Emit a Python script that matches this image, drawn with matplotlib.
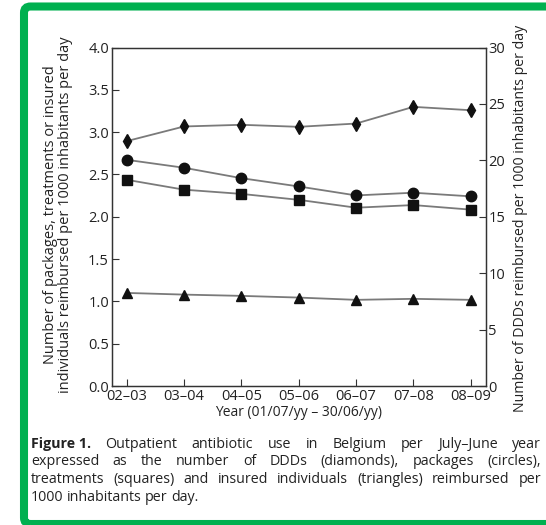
import matplotlib
matplotlib.use("Agg")
import matplotlib.pyplot as plt
from matplotlib.patches import FancyBboxPatch

plt.rcParams["font.family"] = ["Open Sans", "DejaVu Sans"]

# July-June years and the four indicators
years = ["02\u201303", "03\u201304", "04\u201305", "05\u201306", "06\u201307", "07\u201308", "08\u201309"]
ddds = [21.7, 23.0, 23.15, 22.97, 23.26, 24.74, 24.44]        # right axis
packages = [2.673, 2.579, 2.456, 2.358, 2.252, 2.284, 2.241]
treatments = [2.437, 2.32, 2.27, 2.20, 2.107, 2.138, 2.084]
individuals = [1.10, 1.08, 1.065, 1.045, 1.018, 1.03, 1.018]

W, H = 546, 525
fig = plt.figure(figsize=(W / 100, H / 100), dpi=100, facecolor="white")

# green frame around figure and caption (right side runs off the page)
frame = FancyBboxPatch((24 / W, 1 - 524 / H), (580 - 24) / W, (524 - 6.5) / H,
                       boxstyle="round,pad=0,rounding_size=0.012",
                       transform=fig.transFigure, facecolor="none",
                       edgecolor="#00B050", linewidth=5.8, zorder=-1)
fig.patches.append(frame)

ax = fig.add_axes([111.7 / W, 1 - 386 / H, (485.7 - 111.7) / W, (386 - 47.5) / H])
ax.patch.set_alpha(0)
ax2 = ax.twinx()

x = list(range(len(years)))
line_kw = dict(color="#7a7a7a", linewidth=1.3, markerfacecolor="#111111",
               markeredgecolor="#111111")
ax.plot(x, packages, marker="o", markersize=7.5, **line_kw)
ax.plot(x, treatments, marker="s", markersize=7, **line_kw)
ax.plot(x, individuals, marker="^", markersize=7.5, **line_kw)
ax2.plot(x, ddds, marker="d", markersize=7.5, **line_kw)

ax.set_xlim(-0.26, 6.26)
ax.set_ylim(0, 4)
ax2.set_ylim(0, 30)
ax.set_yticks([0, 0.5, 1, 1.5, 2, 2.5, 3, 3.5, 4])
ax.set_yticklabels(["0.0", "0.5", "1.0", "1.5", "2.0", "2.5", "3.0", "3.5", "4.0"])
ax2.set_yticks([0, 5, 10, 15, 20, 25, 30])
ax.set_xticks(x)
ax.set_xticklabels(years)

for a in (ax, ax2):
    a.tick_params(direction="in", length=5, width=0.8, color="#333333",
                  labelsize=10.5, labelcolor="#222222", pad=2)
    for s in a.spines.values():
        s.set_color("#333333")
        s.set_linewidth(0.9)

ax.set_xlabel("Year (01/07/yy \u2013 30/06/yy)", fontsize=10, color="#222222", labelpad=1)
fig.text(58 / W, 1 - 215 / H,
         "Number of packages, treatments or insured\nindividuals reimbursed per 1000 inhabitants per day",
         rotation=90, ha="center", va="center", multialignment="center",
         fontsize=10.5, color="#222222", linespacing=1.0)
fig.text(520 / W, 1 - 218 / H,
         "Number of DDDs reimbursed per 1000 inhabitants per day",
         rotation=90, ha="center", va="center", fontsize=10.2, color="#222222")

# justified caption
caption = [
    "Figure 1. Outpatient antibiotic use in Belgium per July\u2013June year",
    "expressed as the number of DDDs (diamonds), packages (circles),",
    "treatments (squares) and insured individuals (triangles) reimbursed per",
    "1000 inhabitants per day.",
]
left_px, right_px = 31, 541
top_px, step_px = 444, 17.7
renderer = fig.canvas.get_renderer()
for i, line in enumerate(caption):
    words = line.split(" ")
    if i == 0:
        words = ["Figure 1."] + words[2:]
    y = 1 - (top_px + i * step_px) / H
    texts = []
    for w in words:
        weight = "bold" if w == "Figure 1." else "normal"
        t = fig.text(0, y, w, fontsize=10.3, color="#222222", va="center",
                     fontweight=weight)
        texts.append(t)
    widths = [t.get_window_extent(renderer).width for t in texts]
    if i < len(caption) - 1:
        gap = (right_px - left_px - sum(widths)) / (len(words) - 1)
    else:
        gap = 3.5
    xp = left_px
    for t, wd in zip(texts, widths):
        t.set_x(xp / W)
        xp += wd + gap

fig.savefig("out.png", dpi=100)
